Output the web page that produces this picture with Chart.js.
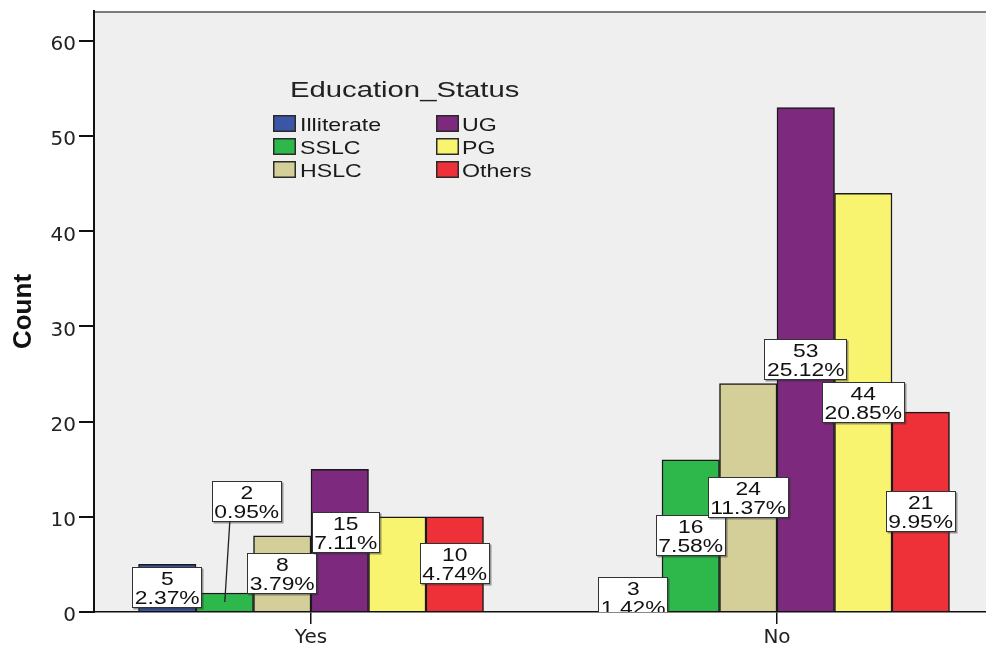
<!DOCTYPE html>
<html>
<head>
<meta charset="utf-8">
<script src="https://cdn.jsdelivr.net/npm/chart.js@4.4.1/dist/chart.umd.min.js"></script>
<style>
  html, body { margin: 0; padding: 0; background: #ffffff; overflow: hidden; }
  #wrap { width: 986px; height: 646px; }
</style>
</head>
<body>
<div id="wrap"><canvas id="c" width="986" height="646"></canvas></div>
<script>
// ---- data ----
const categories = ['Yes', 'No'];
const seriesNames = ['Illiterate', 'SSLC', 'HSLC', 'UG', 'PG', 'Others'];
const illiterate = [5, 3];
const sslc = [2, 16];
const hslc = [8, 24];
const ug = [15, 53];
const pg = [10, 44];
const others = [10, 21];
const yTicks = [0, 10, 20, 30, 40, 50, 60];
const legendTitle = 'Education_Status';
const yTitle = 'Count';

// ---- style ----
const seriesColors = ['#3c56a7', '#2eb74b', '#d4cf98', '#7c297e', '#f9f470', '#ee3138'];
const seriesValues = [illiterate, sslc, hslc, ug, pg, others];
const total = seriesValues.flat().reduce((a, b) => a + b, 0);

// label placement tweaks (styling, in pixels)
const labelAdjust = {
  'Yes|SSLC': { dx: 22, dy: -100, leader: true },
  'Yes|UG': { dx: 6, dy: -8 },
  'Yes|PG': { hide: true }
};

const LABEL_SX = 1.27;

function stretchedText(ctx, text, x, y, sx, align) {
  ctx.save();
  ctx.translate(x, y);
  ctx.scale(sx, 1);
  ctx.textAlign = align;
  ctx.fillText(text, 0, 0);
  ctx.restore();
}

const bgPlugin = {
  id: 'bgPlugin',
  beforeDraw(chart) {
    const { ctx, chartArea: a } = chart;
    ctx.save();
    ctx.fillStyle = '#efefef';
    ctx.fillRect(a.left, a.top, a.right - a.left, a.bottom - a.top);
    ctx.strokeStyle = '#7a7a7a';
    ctx.lineWidth = 2;
    ctx.beginPath();
    ctx.moveTo(a.left, a.top + 1);
    ctx.lineTo(a.right, a.top + 1);
    ctx.stroke();
    ctx.restore();
  }
};

const labelPlugin = {
  id: 'labelPlugin',
  afterDatasetsDraw(chart) {
    const { ctx, chartArea: a } = chart;
    ctx.save();
    ctx.beginPath();
    ctx.rect(a.left, a.top, a.right - a.left, a.bottom - a.top);
    ctx.clip();
    ctx.font = '18px "Liberation Sans", Arial, sans-serif';
    ctx.textBaseline = 'alphabetic';
    chart.data.datasets.forEach((ds, di) => {
      const meta = chart.getDatasetMeta(di);
      meta.data.forEach((bar, i) => {
        const key = categories[i] + '|' + seriesNames[di];
        const adj = labelAdjust[key] || {};
        if (adj.hide) return;
        const v = ds.data[i].y;
        const lines = [String(v), (v / total * 100).toFixed(2) + '%'];
        const midY = (bar.y + bar.base) / 2;
        const cx = bar.x + (adj.dx || 0);
        const cy = midY + (adj.dy || 0);
        const tw = Math.max(...lines.map(l => ctx.measureText(l).width)) * LABEL_SX;
        const w = Math.round(tw + 5), h = 41;
        const x0 = Math.round(cx - w / 2), y0 = Math.round(cy - h / 2);
        if (adj.leader) {
          ctx.strokeStyle = '#222';
          ctx.lineWidth = 1.3;
          ctx.beginPath();
          ctx.moveTo(bar.x, midY);
          ctx.lineTo(bar.x + 5, y0 + h);
          ctx.stroke();
        }
        ctx.fillStyle = 'rgba(40,40,40,0.45)';
        ctx.fillRect(x0 + 1.5, y0 + 1.5, w, h);
        ctx.fillStyle = '#ffffff';
        ctx.fillRect(x0, y0, w, h);
        ctx.strokeStyle = '#333';
        ctx.lineWidth = 1;
        ctx.strokeRect(x0 + 0.5, y0 + 0.5, w - 1, h - 1);
        ctx.fillStyle = '#111';
        stretchedText(ctx, lines[0], cx, y0 + 18, LABEL_SX, 'center');
        stretchedText(ctx, lines[1], cx, y0 + 37, LABEL_SX, 'center');
      });
    });
    ctx.restore();
  }
};

const legendPlugin = {
  id: 'legendPlugin',
  afterDraw(chart) {
    const ctx = chart.ctx;
    ctx.save();
    ctx.fillStyle = '#222';
    ctx.textBaseline = 'alphabetic';
    ctx.font = '22px "Liberation Sans", Arial, sans-serif';
    stretchedText(ctx, legendTitle, 290, 97, 1.33, 'left');
    ctx.font = '19px "Liberation Sans", Arial, sans-serif';
    const colBox = [273, 436], colText = [300, 462];
    seriesNames.forEach((name, k) => {
      const col = Math.floor(k / 3), row = k % 3;
      const by = 115 + row * 23;
      ctx.fillStyle = seriesColors[k];
      ctx.fillRect(colBox[col], by, 23, 17);
      ctx.strokeStyle = '#2a2a2a';
      ctx.lineWidth = 1.5;
      ctx.strokeRect(colBox[col] + 0.75, by + 0.75, 21.5, 15.5);
      ctx.fillStyle = '#1a1a1a';
      stretchedText(ctx, name, colText[col], by + 16, 1.22, 'left');
    });
    ctx.restore();
  }
};

const datasets = seriesNames.map((name, k) => ({
  label: name,
  data: seriesValues[k].map((v, i) => ({ x: i, y: v })),
  backgroundColor: seriesColors[k],
  borderColor: '#1a1a1a',
  borderWidth: 1.5,
  barThickness: 57.5
}));

new Chart(document.getElementById('c'), {
  type: 'bar',
  data: { datasets },
  options: {
    responsive: false,
    animation: false,
    devicePixelRatio: 1,
    layout: { padding: { top: 11, right: 0, bottom: 0, left: 0 } },
    plugins: { legend: { display: false }, tooltip: { enabled: false } },
    scales: {
      x: {
        type: 'linear',
        offset: false,
        min: -0.4657,
        max: 1.4485,
        afterBuildTicks: s => { s.ticks = categories.map((c, i) => ({ value: i })); },
        afterFit: s => { s.height = 34; s.paddingLeft = 0; s.paddingRight = 0; },
        ticks: {
          callback: v => (categories[v] !== undefined ? categories[v] : ''),
          font: { family: 'DejaVu Sans', size: 20 },
          color: '#222',
          padding: 2,
          maxRotation: 0,
          autoSkip: false
        },
        grid: { display: true, offset: false, drawOnChartArea: false, drawTicks: true, tickLength: 12, color: '#111', lineWidth: 1.5 },
        border: { display: true, color: '#111', width: 1.5 }
      },
      y: {
        min: 0,
        max: 63.15,
        afterBuildTicks: s => { s.ticks = yTicks.map(v => ({ value: v })); },
        afterFit: s => { s.width = 94; s.paddingTop = 0; s.paddingBottom = 0; },
        ticks: { font: { family: 'DejaVu Sans', size: 20 }, color: '#222', padding: 3, labelOffset: 4 },
        grid: { display: true, drawOnChartArea: false, drawTicks: true, tickLength: 15, color: '#111', lineWidth: 2 },
        border: { display: true, color: '#111', width: 2 },
        title: {
          display: true,
          text: yTitle,
          font: { family: 'Liberation Sans', size: 26, weight: 'bold' },
          color: '#111',
          padding: { top: 8, bottom: 0 }
        }
      }
    }
  },
  plugins: [bgPlugin, labelPlugin, legendPlugin]
});
</script>
</body>
</html>
